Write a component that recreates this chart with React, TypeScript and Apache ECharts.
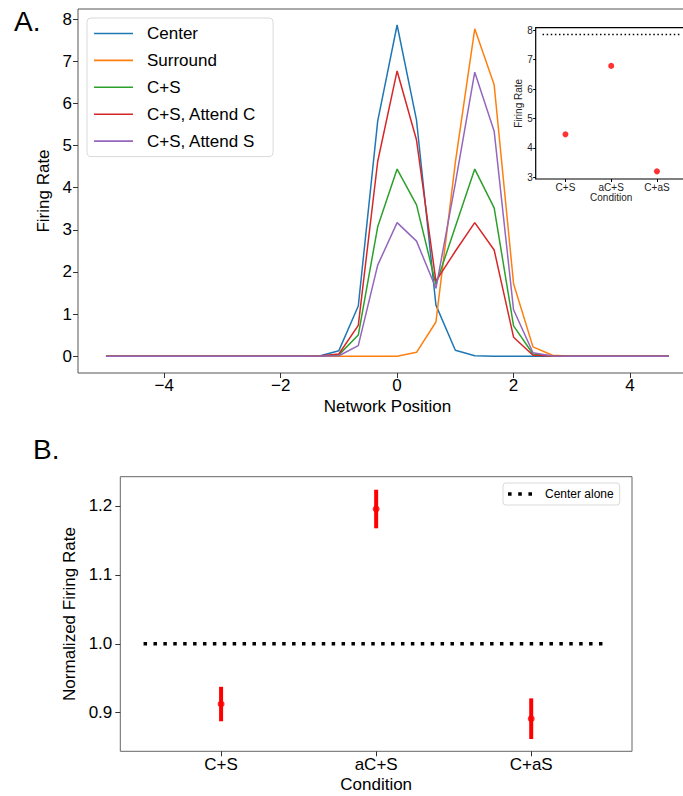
import React, { useEffect, useRef } from "react";
import * as echarts from "echarts";

// ---- Panel A data ----
const POSITIONS: number[] = Array.from({ length: 30 }, (_, i) => -5 + i / 3);
const CENTER = [0, 0, 0, 0, 0, 0, 0, 0, 0, 0, 0, 0.003, 0.13, 1.19, 5.58, 7.86, 5.6, 1.21, 0.14, 0.01, 0, 0, 0, 0, 0, 0, 0, 0, 0, 0];
const SURROUND = [0, 0, 0, 0, 0, 0, 0, 0, 0, 0, 0, 0, 0, 0, 0, 0, 0.09, 0.81, 4.6, 7.77, 6.44, 1.72, 0.22, 0.02, 0, 0, 0, 0, 0, 0];
const CS = [0, 0, 0, 0, 0, 0, 0, 0, 0, 0, 0, 0.002, 0.03, 0.5, 3.07, 4.44, 3.59, 1.7, 3.07, 4.44, 3.52, 0.72, 0.05, 0.005, 0, 0, 0, 0, 0, 0];
const CS_ATTEND_C = [0, 0, 0, 0, 0, 0, 0, 0, 0, 0, 0, 0.003, 0.05, 0.73, 4.62, 6.77, 5.13, 1.78, 2.49, 3.17, 2.52, 0.45, 0.02, 0.003, 0, 0, 0, 0, 0, 0];
const CS_ATTEND_S = [0, 0, 0, 0, 0, 0, 0, 0, 0, 0, 0, 0.001, 0.01, 0.25, 2.16, 3.17, 2.73, 1.61, 4.1, 6.74, 5.34, 1.1, 0.08, 0.005, 0, 0, 0, 0, 0, 0];
const SERIES_NAMES = ["Center", "Surround", "C+S", "C+S, Attend C", "C+S, Attend S"];
const SERIES_VALUES = [CENTER, SURROUND, CS, CS_ATTEND_C, CS_ATTEND_S];
const SERIES_COLORS = ["#1f77b4", "#ff7f0e", "#2ca02c", "#d62728", "#9467bd"];
const A_X_TICKS = [-4, -2, 0, 2, 4];
const A_Y_TICKS = [0, 1, 2, 3, 4, 5, 6, 7, 8];

// ---- Inset data ----
const CONDITIONS = ["C+S", "aC+S", "C+aS"];
const INSET_RATES = [4.46, 6.79, 3.2];
const CENTER_ALONE_RATE = 7.86;
const INSET_Y_TICKS = [3, 4, 5, 6, 7, 8];

// ---- Panel B data ----
const NORM_MEANS = [0.9126, 1.1956, 0.8913];
const NORM_ERRS = [0.025, 0.028, 0.0295];
const CENTER_ALONE_NORM = 1.0;
const B_Y_TICKS = [0.9, 1.0, 1.1, 1.2];

const FONT = "Liberation Sans";
const fmtMinus = (v: number) => (v < 0 ? "\u2212" + Math.abs(v) : String(v));
const DOTS_ICON = "path://M0,0h3.5v3.5h-3.5z M10,0h3.5v3.5h-3.5z M20,0h3.5v3.5h-3.5z";

export default function App() {
  const ref = useRef<HTMLDivElement>(null);
  useEffect(() => {
    if (!ref.current) return;
    const chart = echarts.init(ref.current, undefined, { renderer: "svg" });
    const condIdx = CONDITIONS.map((_, i) => i);
    const hiddenLine = { show: false, onZero: false };

    const lineSeries = SERIES_NAMES.map((name, k) => ({
      name,
      type: "line",
      xAxisIndex: 0,
      yAxisIndex: 0,
      symbol: "none",
      data: POSITIONS.map((x, i) => [x, SERIES_VALUES[k][i]]),
      lineStyle: { color: SERIES_COLORS[k], width: 1.5 },
      itemStyle: { color: SERIES_COLORS[k] },
      z: 3,
    }));

    const option: any = {
      animation: false,
      textStyle: { fontFamily: FONT },
      title: [
        { text: "A.", left: 9, top: 2, textStyle: { fontSize: 28, fontWeight: "normal", color: "#000", fontFamily: FONT } },
        { text: "B.", left: 28, top: 430, textStyle: { fontSize: 28, fontWeight: "normal", color: "#000", fontFamily: FONT } },
      ],
      legend: [
        {
          data: SERIES_NAMES,
          orient: "vertical",
          left: 87,
          top: 18,
          icon: "rect",
          itemWidth: 39,
          itemHeight: 1.6,
          itemGap: 9.9,
          padding: [7, 17, 7, 7],
          backgroundColor: "#fff",
          borderColor: "#d9d9d9",
          borderWidth: 1,
          borderRadius: 4,
          selectedMode: false,
          textStyle: { fontSize: 17, color: "#000", fontFamily: FONT, padding: [0, 0, 0, 9] },
        },
        {
          data: ["Center alone"],
          left: 503,
          top: 483,
          icon: DOTS_ICON,
          itemWidth: 24,
          itemHeight: 3.6,
          padding: [5, 6, 5, 5],
          backgroundColor: "#fff",
          borderColor: "#d9d9d9",
          borderWidth: 1,
          borderRadius: 3,
          selectedMode: false,
          itemStyle: { color: "#000" },
          textStyle: { fontSize: 12, color: "#000", fontFamily: FONT, padding: [0, 0, 0, 8] },
        },
      ],
      grid: [
        { left: 78, top: 9, width: 619, height: 364, outerBoundsMode: "none", containLabel: false, show: true, borderColor: "#555", borderWidth: 1, backgroundColor: "transparent" },
        { left: 535.7, top: 27.7, width: 151, height: 151.3, outerBoundsMode: "none", containLabel: false, show: true, borderColor: "#000", borderWidth: 1.2, backgroundColor: "#fff", z: 5 },
        { left: 120.3, top: 476.7, width: 511.7, height: 274.6, outerBoundsMode: "none", containLabel: false, show: true, borderColor: "#666", borderWidth: 1, backgroundColor: "transparent" },
      ],
      xAxis: [
        {
          gridIndex: 0,
          type: "value",
          min: -5.48,
          max: 5.15,
          axisLine: hiddenLine,
          splitLine: { show: false },
          axisTick: { customValues: A_X_TICKS, length: 5, lineStyle: { color: "#333" } },
          axisLabel: { customValues: A_X_TICKS, formatter: fmtMinus, fontSize: 17, color: "#000", margin: 4, fontFamily: FONT },
          name: "Network Position",
          nameLocation: "middle",
          nameGap: 25,
          nameTextStyle: { fontSize: 17, color: "#000", fontFamily: FONT },
        },
        {
          gridIndex: 1,
          type: "value",
          min: -0.65,
          max: 2.65,
          axisLine: hiddenLine,
          splitLine: { show: false },
          axisTick: { customValues: condIdx, length: 3, lineStyle: { color: "#000" } },
          axisLabel: { customValues: condIdx, formatter: (v: number) => CONDITIONS[Math.round(v)], fontSize: 10, color: "#222", margin: 3, fontFamily: FONT },
          name: "Condition",
          nameLocation: "middle",
          nameGap: 13,
          nameTextStyle: { fontSize: 10, color: "#222", fontFamily: FONT },
          z: 6,
        },
        {
          gridIndex: 2,
          type: "value",
          min: -0.65,
          max: 2.65,
          axisLine: hiddenLine,
          splitLine: { show: false },
          axisTick: { customValues: condIdx, length: 5, lineStyle: { color: "#333" } },
          axisLabel: { customValues: condIdx, formatter: (v: number) => CONDITIONS[Math.round(v)], fontSize: 17, color: "#000", margin: 5, fontFamily: FONT },
          name: "Condition",
          nameLocation: "middle",
          nameGap: 25,
          nameTextStyle: { fontSize: 17, color: "#000", fontFamily: FONT },
        },
      ],
      yAxis: [
        {
          gridIndex: 0,
          type: "value",
          min: -0.4,
          max: 8.24,
          axisLine: hiddenLine,
          splitLine: { show: false },
          axisTick: { customValues: A_Y_TICKS, length: 5, lineStyle: { color: "#333" } },
          axisLabel: { customValues: A_Y_TICKS, fontSize: 17, color: "#000", margin: 6, fontFamily: FONT },
          name: "Firing Rate",
          nameLocation: "middle",
          nameGap: 22,
          nameTextStyle: { fontSize: 17, color: "#000", fontFamily: FONT },
        },
        {
          gridIndex: 1,
          type: "value",
          min: 2.94,
          max: 8.09,
          axisLine: hiddenLine,
          splitLine: { show: false },
          axisTick: { customValues: INSET_Y_TICKS, length: 2.5, lineStyle: { color: "#000" } },
          axisLabel: { customValues: INSET_Y_TICKS, fontSize: 10, color: "#222", margin: 3, fontFamily: FONT },
          name: "Firing Rate",
          nameLocation: "middle",
          nameGap: 11,
          nameTextStyle: { fontSize: 10, color: "#222", fontFamily: FONT },
          z: 6,
        },
        {
          gridIndex: 2,
          type: "value",
          min: 0.844,
          max: 1.2425,
          axisLine: hiddenLine,
          splitLine: { show: false },
          axisTick: { customValues: B_Y_TICKS, length: 5, lineStyle: { color: "#333" } },
          axisLabel: { customValues: B_Y_TICKS, formatter: (v: number) => v.toFixed(1), fontSize: 17, color: "#000", margin: 8, fontFamily: FONT },
          name: "Normalized Firing Rate",
          nameLocation: "middle",
          nameGap: 37,
          nameTextStyle: { fontSize: 17, color: "#000", fontFamily: FONT },
        },
      ],
      series: [
        ...lineSeries,
        {
          name: "inset-center",
          type: "line",
          xAxisIndex: 1,
          yAxisIndex: 1,
          symbol: "none",
          data: [[-0.5, CENTER_ALONE_RATE], [2.5, CENTER_ALONE_RATE]],
          lineStyle: { color: "#000", width: 1.5, type: [1.5, 2.6] },
          z: 7,
        },
        {
          name: "inset-points",
          type: "scatter",
          xAxisIndex: 1,
          yAxisIndex: 1,
          symbolSize: 6,
          data: INSET_RATES.map((v, i) => [i, v]),
          itemStyle: { color: "#ff0000" },
          z: 7,
        },
        {
          name: "Center alone",
          type: "line",
          xAxisIndex: 2,
          yAxisIndex: 2,
          symbol: "none",
          data: [[-0.5, CENTER_ALONE_NORM], [2.5, CENTER_ALONE_NORM]],
          lineStyle: { color: "#000", width: 3.5, type: [3.5, 6.4] },
          itemStyle: { color: "#000" },
        },
        {
          name: "errorbars",
          type: "custom",
          xAxisIndex: 2,
          yAxisIndex: 2,
          data: NORM_MEANS.map((m, i) => [i, m - NORM_ERRS[i], m + NORM_ERRS[i]]),
          encode: { x: 0, y: [1, 2] },
          renderItem: (params: any, api: any) => {
            const x = api.value(0);
            const p1 = api.coord([x, api.value(1)]);
            const p2 = api.coord([x, api.value(2)]);
            return {
              type: "line",
              shape: { x1: p1[0], y1: p1[1], x2: p2[0], y2: p2[1] },
              style: { stroke: "#ff0000", lineWidth: 4 },
            };
          },
          z: 4,
        },
        {
          name: "norm-points",
          type: "scatter",
          xAxisIndex: 2,
          yAxisIndex: 2,
          symbolSize: 7,
          data: NORM_MEANS.map((m, i) => [i, m]),
          itemStyle: { color: "#ff0000" },
          z: 5,
        },
      ],
    };
    chart.setOption(option);
    return () => chart.dispose();
  }, []);
  return <div ref={ref} style={{ position: "absolute", left: 0, top: 0, width: 683, height: 796 }} />;
}
